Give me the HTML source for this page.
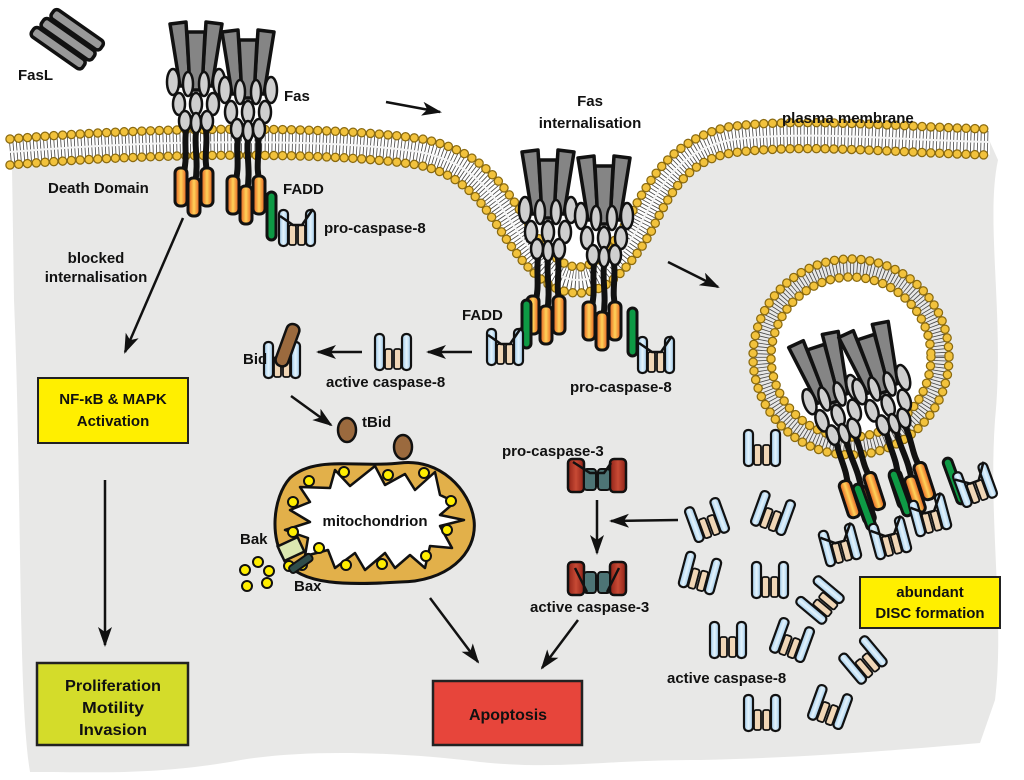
<!DOCTYPE html>
<html><head><meta charset="utf-8"><style>
html,body{margin:0;padding:0;background:#fff;}
svg{display:block;}
text{font-family:"Liberation Sans",sans-serif;font-weight:bold;fill:#111;}
</style></head><body>
<svg width="1024" height="780" viewBox="0 0 1024 780" xmlns="http://www.w3.org/2000/svg">
<defs>
<linearGradient id="og" x1="0" x2="1" y1="0" y2="0"><stop offset="0" stop-color="#e2531a"/><stop offset="0.5" stop-color="#ffd35a"/><stop offset="1" stop-color="#e2531a"/></linearGradient>
<linearGradient id="bg" x1="0" x2="1"><stop offset="0" stop-color="#9cc9ea"/><stop offset="0.5" stop-color="#e4f3fc"/><stop offset="1" stop-color="#9cc9ea"/></linearGradient>
<linearGradient id="rg" x1="0" x2="1"><stop offset="0" stop-color="#8e2216"/><stop offset="0.5" stop-color="#c84a35"/><stop offset="1" stop-color="#8e2216"/></linearGradient>
<g id="rec">
 <g fill="#858585" stroke="#111" stroke-width="3.5" stroke-linejoin="round">
  <polygon points="-2,2 14,0 18,64 8,64"/>
  <polygon points="34,0 50,2 40,64 30,64"/>
  <polygon points="15,10 33,10 30,68 18,68"/>
 </g>
 <g fill="#cfcfcf" stroke="#111" stroke-width="2.5">
  <ellipse cx="1" cy="60" rx="6" ry="13"/><ellipse cx="16" cy="62" rx="5" ry="12"/><ellipse cx="32" cy="62" rx="5" ry="12"/><ellipse cx="47" cy="60" rx="6" ry="13"/>
  <ellipse cx="7" cy="82" rx="6" ry="11"/><ellipse cx="24" cy="82" rx="6" ry="11"/><ellipse cx="41" cy="82" rx="6" ry="11"/>
  <ellipse cx="13" cy="99" rx="6" ry="10"/><ellipse cx="24" cy="101" rx="5" ry="10"/><ellipse cx="35" cy="99" rx="6" ry="10"/>
 </g>
 <g stroke="#111" stroke-width="6" fill="none">
  <path d="M14,108 C12,125 16,135 11,155"/><path d="M24,110 C22,125 27,140 23,162"/><path d="M34,108 C36,125 31,135 36,155"/>
 </g>
 <g fill="url(#og)" stroke="#111" stroke-width="3">
  <rect x="3" y="146" width="12" height="38" rx="5"/><rect x="29" y="146" width="12" height="38" rx="5"/><rect x="16" y="156" width="12" height="38" rx="5"/>
 </g>
</g>
<g id="c8">
 <g fill="url(#bg)" stroke="#111" stroke-width="2.2">
  <rect x="-18" y="-18" width="9" height="36" rx="4"/><rect x="9" y="-18" width="9" height="36" rx="4"/>
 </g>
 <g fill="#f0d6b6" stroke="#111" stroke-width="1.8">
  <rect x="-8" y="-3" width="7" height="20" rx="2"/><rect x="1" y="-3" width="7" height="20" rx="2"/>
 </g>
</g>
<g id="p8">
 <use href="#c8"/>
 <polyline points="-17,-12 -4,-3 5,-3 16,-19" fill="none" stroke="#111" stroke-width="2.5"/>
</g>
<g id="fadd"><rect x="0" y="0" width="9" height="48" rx="4.5" fill="#0e9a45" stroke="#111" stroke-width="3"/></g>
<g id="c3">
 <g fill="url(#rg)" stroke="#111" stroke-width="2.5">
  <rect x="-29" y="-16" width="16" height="33" rx="4"/><rect x="13" y="-16" width="16" height="33" rx="4"/>
 </g>
 <g fill="#4d7475" stroke="#111" stroke-width="2">
  <rect x="-13" y="-6" width="12" height="21" rx="3"/><rect x="1" y="-6" width="12" height="21" rx="3"/>
 </g>
</g>
<path id="mc" d="M10,152 C150,140 330,138 420,152 C470,162 490,190 510,220 C535,260 555,280 578,280 C605,280 625,250 640,225 C660,185 680,150 730,140 C800,130 900,140 990,142"/>
<path id="mo" d="M10,139 C150,127 330,125 422,139 C478,150 500,180 521,212 C543,248 560,267 578,267 C598,267 614,243 629,218 C650,178 672,140 728,127 C800,117 900,127 990,129"/>
<path id="mi" d="M10,165 C150,153 330,151 418,165 C462,174 480,200 499,228 C527,272 550,293 578,293 C612,293 636,257 651,232 C670,192 688,160 732,153 C800,143 900,153 990,155"/>
<marker id="ah2" markerWidth="20" markerHeight="14" refX="18" refY="7" orient="auto" markerUnits="userSpaceOnUse" viewBox="0 0 20 14"><path d="M0,0 L20,7 L0,14 L5,7 Z" fill="#111"/></marker>
</defs>

<path d="M12,167 L10,152 C150,140 330,138 420,152 C470,162 490,190 510,220 C535,260 555,280 578,280 C605,280 625,250 640,225 C660,185 680,150 730,140 C800,130 900,140 990,142 L998,160 C985,220 1005,320 995,420 C988,520 1005,620 995,700 L980,743 C900,750 800,758 700,760 C600,760 560,770 480,762 C400,752 300,748 230,762 C150,775 100,772 30,772 C18,700 22,500 14,300 Z" fill="#e8e8e7"/>

<use href="#mc" fill="none" stroke="#fff" stroke-width="26"/>
<use href="#mc" fill="none" stroke="#444" stroke-width="22" stroke-dasharray="0.8 2.6"/>
<use href="#mc" fill="none" stroke="#f4f4f4" stroke-width="2"/>
<use href="#mo" fill="none" stroke="#8a6a10" stroke-width="9.5" stroke-dasharray="0 8.8" stroke-linecap="round"/>
<use href="#mo" fill="none" stroke="#f2c23c" stroke-width="7" stroke-dasharray="0 8.8" stroke-linecap="round"/>
<use href="#mi" fill="none" stroke="#8a6a10" stroke-width="9.5" stroke-dasharray="0 8.8" stroke-linecap="round"/>
<use href="#mi" fill="none" stroke="#f2c23c" stroke-width="7" stroke-dasharray="0 8.8" stroke-linecap="round"/>

<circle cx="851" cy="357" r="89" fill="none" stroke="#444" stroke-width="18" stroke-dasharray="0.8 2.6"/>
<circle cx="851" cy="357" r="98" fill="none" stroke="#8a6a10" stroke-width="9.5" stroke-dasharray="0 8.9" stroke-linecap="round"/>
<circle cx="851" cy="357" r="98" fill="none" stroke="#f2c23c" stroke-width="7" stroke-dasharray="0 8.9" stroke-linecap="round"/>
<circle cx="851" cy="357" r="80" fill="#fff" stroke="#8a6a10" stroke-width="9.5" stroke-dasharray="0 8.9" stroke-linecap="round"/>
<circle cx="851" cy="357" r="80" fill="none" stroke="#f2c23c" stroke-width="7" stroke-dasharray="0 8.9" stroke-linecap="round"/>

<g transform="translate(70,40) rotate(35)" fill="#999" stroke="#111" stroke-width="3.5">
 <rect x="-30" y="-18" width="60" height="11" rx="4"/>
 <rect x="-33" y="-5" width="62" height="11" rx="4"/>
 <rect x="-36" y="8" width="62" height="11" rx="4"/>
</g>

<use href="#rec" transform="translate(172,22)"/>
<use href="#rec" transform="translate(224,30)"/>
<use href="#fadd" transform="translate(267,192)"/>
<use href="#p8" transform="translate(297,228)"/>

<use href="#rec" transform="translate(524,150)"/>
<use href="#rec" transform="translate(580,156)"/>
<use href="#fadd" transform="translate(522,300)"/>
<use href="#fadd" transform="translate(628,308)"/>
<use href="#p8" transform="translate(505,347)"/>
<use href="#p8" transform="translate(656,355)"/>

<g transform="translate(790,345) rotate(-18)"><use href="#rec"/></g>
<g transform="translate(840,335) rotate(-18)"><use href="#rec"/></g>
<use href="#fadd" transform="translate(852,486) rotate(-20)"/>
<use href="#fadd" transform="translate(888,472) rotate(-20)"/>
<use href="#fadd" transform="translate(942,460) rotate(-20)"/>
<use href="#p8" transform="translate(840,545) rotate(-15)"/>
<use href="#p8" transform="translate(890,538) rotate(-15)"/>
<use href="#p8" transform="translate(930,515) rotate(-15)"/>
<use href="#p8" transform="translate(975,485) rotate(-20)"/>

<use href="#c8" transform="translate(762,448)"/>
<use href="#c8" transform="translate(707,520) rotate(-20)"/>
<use href="#c8" transform="translate(773,513) rotate(20)"/>
<use href="#c8" transform="translate(700,573) rotate(15)"/>
<use href="#c8" transform="translate(770,580)"/>
<use href="#c8" transform="translate(820,600) rotate(-50)"/>
<use href="#c8" transform="translate(728,640)"/>
<use href="#c8" transform="translate(792,640) rotate(20)"/>
<use href="#c8" transform="translate(863,660) rotate(-40)"/>
<use href="#c8" transform="translate(762,713)"/>
<use href="#c8" transform="translate(830,707) rotate(20)"/>
<use href="#c8" transform="translate(393,352)"/>

<use href="#c8" transform="translate(282,360)"/>
<rect x="-6" y="-22" width="13" height="44" rx="6" fill="#9b6a3e" stroke="#111" stroke-width="2.5" transform="translate(287,345) rotate(20)"/>
<ellipse cx="347" cy="430" rx="9" ry="12" fill="#9b6a3e" stroke="#111" stroke-width="2.5"/>
<ellipse cx="403" cy="447" rx="9" ry="12" fill="#9b6a3e" stroke="#111" stroke-width="2.5"/>

<path d="M290,478 C315,455 360,468 400,463 C440,458 470,490 474,520 C478,555 445,582 400,582 C350,585 300,586 285,560 C270,540 272,498 290,478 Z" fill="#e2b04a" stroke="#111" stroke-width="3"/>
<polygon points="300,487 330,488 335,470 350,486 375,466 385,485 405,474 415,490 435,472 440,495 455,502 440,515 464,520 440,526 452,548 430,546 425,568 410,555 395,568 385,553 365,570 355,553 335,568 328,550 305,556 308,538 285,530 310,522 290,510 310,502" fill="#fff" stroke="#111" stroke-width="2.5" stroke-linejoin="round"/>
<g fill="#ffee00" stroke="#111" stroke-width="2">
 <circle cx="309" cy="481" r="5"/><circle cx="344" cy="472" r="5"/><circle cx="388" cy="475" r="5"/><circle cx="424" cy="473" r="5"/>
 <circle cx="293" cy="502" r="5"/><circle cx="451" cy="501" r="5"/><circle cx="447" cy="530" r="5"/><circle cx="426" cy="556" r="5"/>
 <circle cx="382" cy="564" r="5"/><circle cx="346" cy="565" r="5"/><circle cx="319" cy="548" r="5"/><circle cx="293" cy="532" r="5"/><circle cx="302" cy="565" r="5"/><circle cx="289" cy="566" r="5"/>
 <circle cx="245" cy="570" r="5"/><circle cx="258" cy="562" r="5"/><circle cx="269" cy="571" r="5"/><circle cx="247" cy="586" r="5"/><circle cx="267" cy="583" r="5"/>
</g>
<rect x="280" y="541" width="22" height="16" fill="#dbe8b0" stroke="#111" stroke-width="2.5" transform="rotate(-25 291 549)"/>
<rect x="288" y="560" width="26" height="8" rx="3" fill="#2f4d4a" stroke="#111" stroke-width="2" transform="rotate(-35 300 564)"/>

<use href="#c3" transform="translate(597,475)"/>
<polyline points="573,462 590,473 604,473 611,463" fill="none" stroke="#111" stroke-width="2.5"/>
<use href="#c3" transform="translate(597,578)"/>
<path d="M575,568 L587,592 M619,568 L607,592" stroke="#111" stroke-width="2.5"/>

<g stroke="#111" stroke-width="2.5" fill="none" marker-end="url(#ah2)">
 <line x1="386" y1="102" x2="440" y2="112"/>
 <line x1="668" y1="262" x2="718" y2="287"/>
 <line x1="183" y1="218" x2="125" y2="352"/>
 <line x1="105" y1="480" x2="105" y2="645"/>
 <line x1="362" y1="352" x2="318" y2="352"/>
 <line x1="472" y1="352" x2="428" y2="352"/>
 <line x1="291" y1="396" x2="331" y2="425"/>
 <line x1="430" y1="598" x2="478" y2="662"/>
 <line x1="578" y1="620" x2="542" y2="668"/>
 <line x1="597" y1="500" x2="597" y2="553"/>
 <line x1="678" y1="520" x2="611" y2="521"/>
</g>

<rect x="38" y="378" width="150" height="65" fill="#ffef00" stroke="#222" stroke-width="2"/>
<rect x="37" y="663" width="151" height="82" fill="#d4dc2a" stroke="#222" stroke-width="2.5"/>
<rect x="433" y="681" width="149" height="64" fill="#e7453b" stroke="#222" stroke-width="2.5"/>
<rect x="860" y="577" width="140" height="51" fill="#ffef00" stroke="#222" stroke-width="2"/>

<g font-size="15">
<text x="18" y="80">FasL</text>
<text x="284" y="101">Fas</text>
<text x="590" y="106" text-anchor="middle">Fas</text>
<text x="590" y="128" text-anchor="middle">internalisation</text>
<text x="782" y="123">plasma membrane</text>
<text x="48" y="193">Death Domain</text>
<text x="283" y="194">FADD</text>
<text x="324" y="233">pro-caspase-8</text>
<text x="96" y="263" text-anchor="middle">blocked</text>
<text x="96" y="282" text-anchor="middle">internalisation</text>
<text x="113" y="404" text-anchor="middle">NF-κB &amp; MAPK</text>
<text x="113" y="426" text-anchor="middle">Activation</text>
<text x="243" y="364">Bid</text>
<text x="326" y="387">active caspase-8</text>
<text x="462" y="320">FADD</text>
<text x="570" y="392">pro-caspase-8</text>
<text x="362" y="427">tBid</text>
<text x="375" y="526" text-anchor="middle">mitochondrion</text>
<text x="240" y="544">Bak</text>
<text x="294" y="591">Bax</text>
<text x="502" y="456">pro-caspase-3</text>
<text x="530" y="612">active caspase-3</text>
<text x="930" y="597" text-anchor="middle">abundant</text>
<text x="930" y="618" text-anchor="middle">DISC formation</text>
<text x="667" y="683">active caspase-8</text>
</g>
<g font-size="16">
<text x="113" y="691" text-anchor="middle" textLength="96" lengthAdjust="spacingAndGlyphs">Proliferation</text>
<text x="113" y="713" text-anchor="middle" textLength="62" lengthAdjust="spacingAndGlyphs">Motility</text>
<text x="113" y="735" text-anchor="middle" textLength="68" lengthAdjust="spacingAndGlyphs">Invasion</text>
<text x="508" y="720" text-anchor="middle" textLength="78" lengthAdjust="spacingAndGlyphs">Apoptosis</text>
</g>
</svg>
</body></html>
